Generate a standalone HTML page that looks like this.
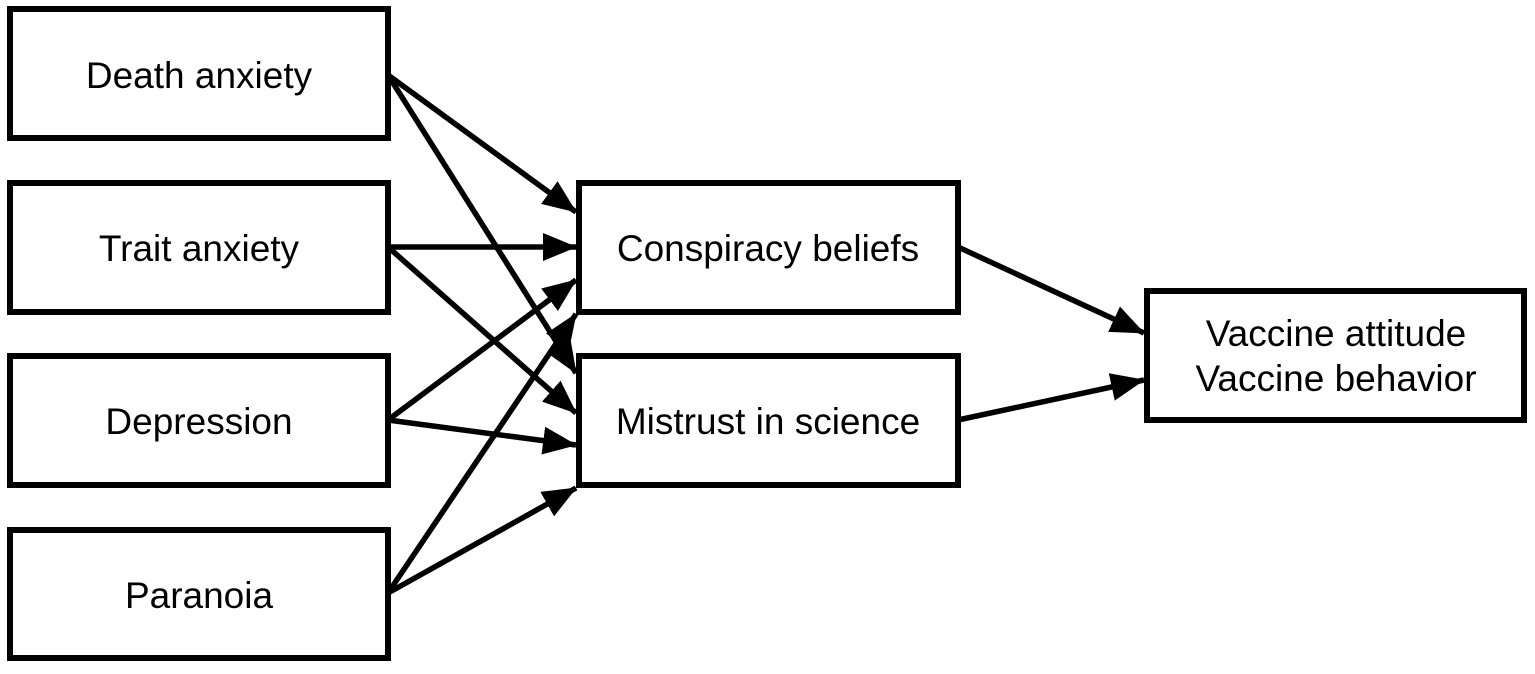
<!DOCTYPE html>
<html><head><style>body{margin:0;background:#fff}</style></head><body>
<svg width="1535" height="669" xmlns="http://www.w3.org/2000/svg">
<defs><marker id="m" markerWidth="34" markerHeight="30" refX="33" refY="15" orient="auto" markerUnits="userSpaceOnUse" viewBox="0 0 34 30"><path d="M0,1 L34,15 L0,29 z" fill="#000"/></marker></defs>
<style>rect{fill:#fff;stroke:#000;stroke-width:6}line{stroke:#000;stroke-width:5.5}text{font-family:"Liberation Sans",Arial,sans-serif;font-size:37px;text-anchor:middle}</style>
<line x1="388" y1="75" x2="576" y2="212" marker-end="url(#m)"/>
<line x1="388" y1="75" x2="576" y2="373" marker-end="url(#m)"/>
<line x1="388" y1="247" x2="576" y2="247" marker-end="url(#m)"/>
<line x1="388" y1="247" x2="576" y2="413" marker-end="url(#m)"/>
<line x1="388" y1="420" x2="576" y2="280" marker-end="url(#m)"/>
<line x1="388" y1="420" x2="576" y2="445" marker-end="url(#m)"/>
<line x1="388" y1="593" x2="576" y2="314" marker-end="url(#m)"/>
<line x1="388" y1="593" x2="576" y2="488" marker-end="url(#m)"/>
<line x1="958" y1="247" x2="1144" y2="333" marker-end="url(#m)"/>
<line x1="958" y1="420" x2="1144" y2="380" marker-end="url(#m)"/>
<rect x="10" y="9" width="378" height="129"/>
<rect x="10" y="183" width="378" height="129"/>
<rect x="10" y="356" width="378" height="129"/>
<rect x="10" y="530" width="378" height="128"/>
<rect x="579" y="183" width="379" height="129"/>
<rect x="579" y="356" width="379" height="129"/>
<rect x="1147" y="291" width="377" height="129"/>
<text x="199" y="88">Death anxiety</text>
<text x="199" y="261">Trait anxiety</text>
<text x="199" y="434">Depression</text>
<text x="199" y="608">Paranoia</text>
<text x="768" y="261">Conspiracy beliefs</text>
<text x="768" y="434">Mistrust in science</text>
<text x="1336" y="346">Vaccine attitude</text>
<text x="1336" y="391">Vaccine behavior</text>
</svg>
</body></html>
